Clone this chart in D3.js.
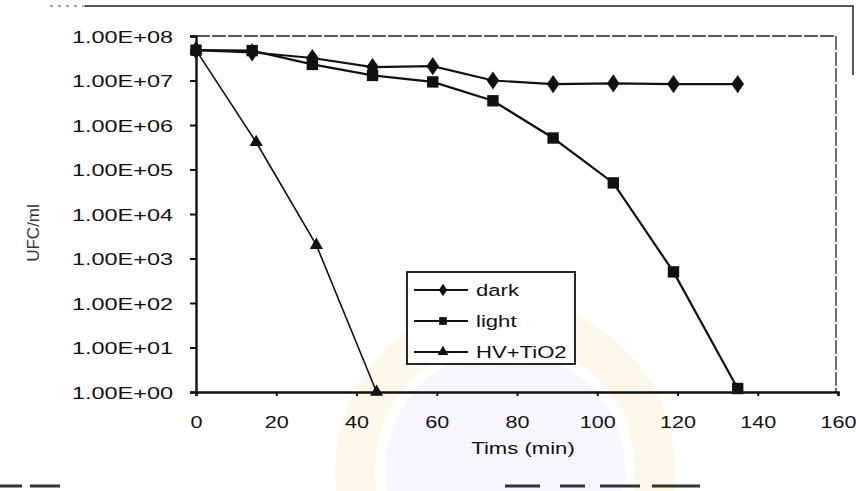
<!DOCTYPE html>
<html>
<head>
<meta charset="utf-8">
<script src="https://cdn.jsdelivr.net/npm/d3@7"></script>
<style>
  html, body { margin: 0; padding: 0; background: #fff; }
  svg { display: block; }
  text { font-family: "Liberation Sans", Arial, sans-serif; fill: #111; }
</style>
</head>
<body>
<svg id="chart" width="856" height="491"></svg>
<script>
// ---- data ----
const darkTime  = [0, 14, 29, 44, 59, 74, 89, 104, 119, 135];
const darkUFC   = [4.8e7, 4.3e7, 3.2e7, 2.0e7, 2.1e7, 1.0e7, 8.3e6, 8.6e6, 8.3e6, 8.3e6];
const lightTime = [0, 14, 29, 44, 59, 74, 89, 104, 119, 135];
const lightUFC  = [4.8e7, 4.7e7, 2.3e7, 1.3e7, 9.3e6, 3.5e6, 5.1e5, 5.0e4, 5.0e2, 1.2];
const hvTime    = [0, 15, 30, 45];
const hvUFC     = [4.8e7, 4.1e5, 2.0e3, 1.0];
const seriesNames = ["dark", "light", "HV+TiO2"];
const xTicks = [0, 20, 40, 60, 80, 100, 120, 140, 160];
const yTicks = [1e0, 1e1, 1e2, 1e3, 1e4, 1e5, 1e6, 1e7, 1e8];
const yTickLabels = ["1.00E+00","1.00E+01","1.00E+02","1.00E+03","1.00E+04","1.00E+05","1.00E+06","1.00E+07","1.00E+08"];
const xTitle = "Tims (min)";
const yTitle = "UFC/ml";

// ---- layout ----
const svg = d3.select("#chart");
const L = 196, R = 838, T = 36, B = 392;
const SX = 1.38; // horizontal stretch of scanned text
const x = d3.scaleLinear().domain([0, 160]).range([L, R]);
const y = d3.scaleLog().domain([1, 1e8]).range([B, T]);

// very faint watermark emblem
const wm = svg.append("g");
wm.append("circle").attr("cx", 505).attr("cy", 470).attr("r", 150)
  .attr("fill", "none").attr("stroke", "#fdf8ea").attr("stroke-width", 40);
wm.append("circle").attr("cx", 505).attr("cy", 470).attr("r", 120)
  .attr("fill", "#f6f6fc");

// outer chart frame remnants
svg.append("path").attr("d", "M85,6 L853,6 L853,75")
  .attr("fill", "none").attr("stroke", "#222").attr("stroke-width", 1.5);
svg.append("path").attr("d", "M50,6 L85,6")
  .attr("fill", "none").attr("stroke", "#555").attr("stroke-width", 1).attr("stroke-dasharray", "3,5");
svg.append("path").attr("d", "M0,486 L22,486 M30,486 L60,486 M505,486 L540,486 M560,486 L585,486 M600,486 L640,486 M652,486 L700,486")
  .attr("fill", "none").attr("stroke", "#333").attr("stroke-width", 3);

// plot area border (top & right)
svg.append("path").attr("d", `M${L},${T} L836,${T} L836,${B}`)
  .attr("fill", "none").attr("stroke", "#222").attr("stroke-width", 1.3)
  .attr("stroke-dasharray", "14,2");

// axes
const yAxis = svg.append("g").attr("transform", `translate(${L},0)`)
  .call(d3.axisLeft(y).tickValues(yTicks).tickSize(6).tickPadding(0)
    .tickFormat((d, i) => yTickLabels[i]));
yAxis.select(".domain").attr("stroke", "#111").attr("stroke-width", 2.4);
yAxis.selectAll(".tick line").attr("stroke", "#111").attr("stroke-width", 2);
yAxis.selectAll(".tick text")
  .style("font-size", "17px").style("font-family", "Liberation Sans, Arial, sans-serif")
  .attr("fill", "#111")
  .attr("text-anchor", "end")
  .attr("x", -23 / SX).attr("dy", "0.36em")
  .attr("transform", `scale(${SX},1)`);

const xAxis = svg.append("g").attr("transform", `translate(0,${B})`)
  .call(d3.axisBottom(x).tickValues(xTicks).tickSize(4).tickPadding(0));
xAxis.select(".domain").attr("stroke", "#111").attr("stroke-width", 2.4);
xAxis.selectAll(".tick line").attr("stroke", "#111").attr("stroke-width", 2);
xAxis.selectAll(".tick text")
  .style("font-size", "17px").style("font-family", "Liberation Sans, Arial, sans-serif")
  .attr("fill", "#111")
  .attr("y", 30).attr("dy", "0.36em")
  .attr("transform", `scale(${SX * 0.92},1)`);

// axis titles
svg.append("text").attr("transform", `translate(523,448) scale(1.3,1)`)
  .attr("text-anchor", "middle").attr("dy", "0.35em")
  .style("font-size", "17px").text(xTitle);
svg.append("text").attr("transform", `translate(33,233) rotate(-90)`)
  .attr("text-anchor", "middle").attr("dy", "0.35em")
  .style("font-size", "17px").style("fill", "#333").text(yTitle);

// series
const line = d3.line().x(d => x(d[0])).y(d => y(d[1]));
const darkData = darkTime.map((t, i) => [t, darkUFC[i]]);
const lightData = lightTime.map((t, i) => [t, lightUFC[i]]);
const hvData = hvTime.map((t, i) => [t, hvUFC[i]]);

svg.append("path").datum(hvData).attr("d", line)
  .attr("fill", "none").attr("stroke", "#111").attr("stroke-width", 1.6);
svg.append("path").datum(lightData).attr("d", line)
  .attr("fill", "none").attr("stroke", "#111").attr("stroke-width", 2.2);
svg.append("path").datum(darkData).attr("d", line)
  .attr("fill", "none").attr("stroke", "#111").attr("stroke-width", 2.2);

const diamond = d3.symbol().type(d3.symbolDiamond).size(95);
const square = d3.symbol().type(d3.symbolSquare).size(130);
const triangle = d3.symbol().type(d3.symbolTriangle).size(75);

svg.append("g").selectAll("path").data(lightData).join("path")
  .attr("transform", d => `translate(${x(d[0])},${y(d[1])})`)
  .attr("d", square).attr("fill", "#111");
svg.append("g").selectAll("path").data(darkData).join("path")
  .attr("transform", d => `translate(${x(d[0])},${y(d[1])}) scale(1.2,1)`)
  .attr("d", diamond).attr("fill", "#111");
svg.append("g").selectAll("path").data(hvData).join("path")
  .attr("transform", d => `translate(${x(d[0])},${y(d[1])})`)
  .attr("d", triangle).attr("fill", "#111");

// legend
const lg = svg.append("g");
lg.append("rect").attr("x", 407).attr("y", 272).attr("width", 168).attr("height", 92)
  .attr("fill", "#fff").attr("stroke", "#111").attr("stroke-width", 1.8);
const syms = [diamond, d3.symbol().type(d3.symbolSquare).size(60), d3.symbol().type(d3.symbolTriangle).size(50)];
seriesNames.forEach((name, i) => {
  const cy = 290 + i * 31;
  lg.append("line").attr("x1", 414).attr("x2", 468).attr("y1", cy).attr("y2", cy)
    .attr("stroke", "#111").attr("stroke-width", 1.8);
  lg.append("path").attr("transform", `translate(443,${cy})` + (i === 0 ? " scale(0.8,0.7)" : ""))
    .attr("d", syms[i]).attr("fill", "#111");
  lg.append("text").attr("transform", `translate(476,${cy}) scale(1.3,1)`)
    .attr("dy", "0.35em").style("font-size", "17px").text(name);
});
</script>
</body>
</html>
